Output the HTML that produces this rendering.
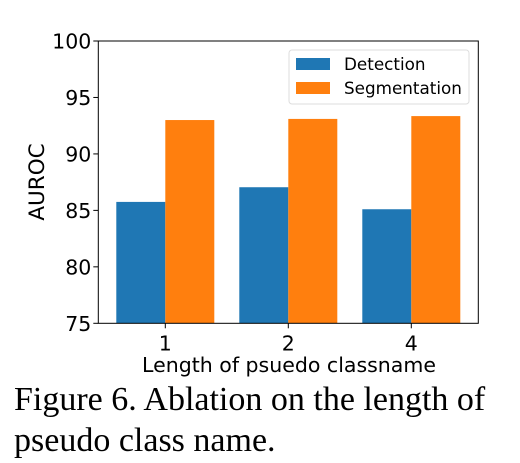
<!DOCTYPE html>
<html><head><meta charset="utf-8"><style>
body{margin:0;background:#fff;width:520px;height:463px;overflow:hidden}
svg text{font-family:"DejaVu Sans","Liberation Sans",sans-serif}
.cap{position:absolute;left:14px;font-family:"Liberation Serif",serif;font-size:34px;line-height:40px;color:#000;white-space:nowrap}
</style></head><body>
<svg width="520" height="463" style="position:absolute;left:0;top:0">
<g id="g"></g>
</svg>
<div class="cap" style="top:380px">Figure 6. Ablation on the length of</div>
<div class="cap" style="top:421px">pseudo class name.</div>
<script>
const categories=["1","2","4"];
const detection=[85.75,87.05,85.1];
const segmentation=[93.0,93.1,93.35];
const yTicks=[75,80,85,90,95,100];
const L=98.3,R=478.3,T=41,B=323.3,ymin=75,ymax=100;
const NS="http://www.w3.org/2000/svg";
const g=document.getElementById('g');
function y(v){return B-(v-ymin)/(ymax-ymin)*(B-T);}
function x(i){return 165.3+i*123;}
function mk(t,a,txt){const e=document.createElementNS(NS,t);for(const k in a)e.setAttribute(k,a[k]);if(txt!==undefined)e.textContent=txt;g.appendChild(e);return e;}
const bw=49;
categories.forEach((c,i)=>{
 const b=mk('rect',{x:x(i)-bw,y:y(detection[i]),width:bw,height:B-y(detection[i]),fill:'#1f77b4'});
 
 
 const o=mk('rect',{x:x(i),y:y(segmentation[i]),width:bw,height:B-y(segmentation[i]),fill:'#ff7f0e'});
 
 
 mk('line',{x1:x(i),x2:x(i),y1:B,y2:B+5,stroke:'#000','stroke-width':1});
 const t=mk('text',{x:x(i),y:B+27,'text-anchor':'middle','font-size':20.5},c);
 
 
});
yTicks.forEach(v=>{
 mk('line',{x1:L-5,x2:L,y1:y(v),y2:y(v),stroke:'#000','stroke-width':1});
 const t=mk('text',{x:L-7,y:y(v)+7.5,'text-anchor':'end','font-size':20.5},String(v));
 
 
});
const fr=mk('rect',{x:L,y:T,width:R-L,height:B-T,fill:'none',stroke:'#000','stroke-width':1});


const yl=mk('text',{x:0,y:0,transform:'translate(44,182) rotate(-90)','text-anchor':'middle','font-size':21.5},'AUROC');


const xl=mk('text',{x:289,y:372,'text-anchor':'middle','font-size':20.5},'Length of psuedo classname');


const lg=mk('rect',{x:289,y:50,width:180,height:54,rx:3,fill:'#fff',stroke:'#ddd','stroke-width':1});


mk('rect',{x:296,y:58,width:34,height:12,fill:'#1f77b4'});
mk('rect',{x:296,y:82,width:34,height:12,fill:'#ff7f0e'});
const l1=mk('text',{x:344,y:70,'font-size':16.8},'Detection');


const l2=mk('text',{x:344,y:94,'font-size':16.8},'Segmentation');


</script>
</body></html>
